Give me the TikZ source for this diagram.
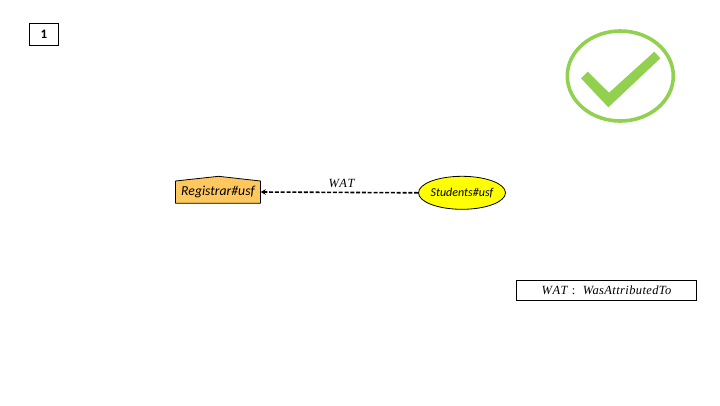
\documentclass[tikz,border=0pt]{standalone}
\usepackage{fontspec}
\setmainfont{Carlito}
\newfontfamily\mathlike{Liberation Serif}[LetterSpace=3]
\usetikzlibrary{shapes.geometric,arrows.meta}
\definecolor{okgreen}{HTML}{92D050}
\definecolor{regfill}{HTML}{FFC85F}
\definecolor{stufill}{HTML}{FFFF00}
\tikzset{
  px/.style={x=1pt,y=-1pt},
  labelbox/.style={draw=black,line width=0.9pt,fill=white,inner sep=0pt,text=black},
  entity/.style={draw=black,line width=0.8pt,inner sep=0pt,line join=round},
  agent/.style={inner sep=0pt,font=\fontsize{13.7}{15}\selectfont\itshape},
  wat/.style={dash pattern=on 4pt off 1.8pt,line width=1.6pt,-{Stealth[length=5pt,width=5.5pt]}},
  mathtext/.style={font=\mathlike\itshape\fontsize{12.5}{14}\selectfont},
}
\begin{document}
\begin{tikzpicture}[px]
\useasboundingbox (0,0) rectangle (720,405);
% numbered tag
\node[labelbox,font=\bfseries\fontsize{13}{15}\selectfont,minimum width=29pt,minimum height=22pt] (num) at (44,34) {1};
% check mark
\node[draw=okgreen,line width=3.6pt,ellipse,minimum width=106pt,minimum height=90pt,inner sep=0pt] (ring) at (620.3,76) {};
\fill[okgreen] (581,78.3) -- (587.7,71.7) -- (609,92.7) -- (654.3,51.7) -- (660.3,58.3) -- (608.3,107.3) -- cycle;
% pentagon entity
\filldraw[entity,fill=regfill] (175.5,203.3) -- (175.5,181) -- (218.5,176.3) -- (260.5,181) -- (260.5,203.3) -- cycle;
\node[agent,minimum width=85pt,minimum height=22pt] (reg) at (218,192) {Registrar\#usf};
% ellipse entity
\node[entity,ellipse,fill=stufill,minimum width=87pt,minimum height=33pt] (stu) at (462,192.8) {};
\node[inner sep=0pt,font=\fontsize{12}{14}\selectfont\itshape] (stutext) at (stu.center) {Students\#usf};
% connector
\draw[wat] (stu.west) -- (reg.east);
\node[mathtext,inner sep=0pt] (watlab) at (341.5,183) {W\kern0.5pt A\kern0.5pt T};
% legend
\node[labelbox,mathtext,minimum width=180pt,minimum height=20pt] (legend) at (606.5,290) {W\kern0.5pt A\kern0.5pt T\,\,{\upshape:}\,\, WasAttributedTo};
\end{tikzpicture}
\end{document}
